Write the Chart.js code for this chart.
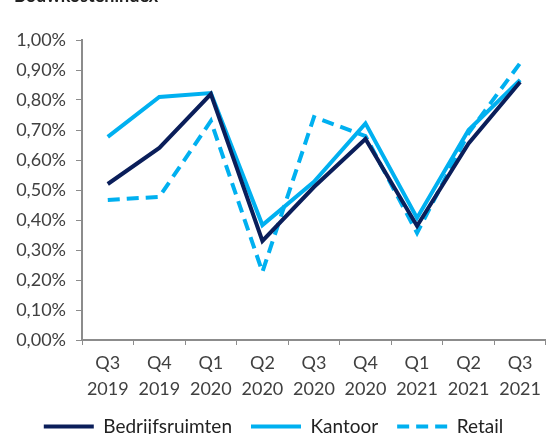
<!DOCTYPE html>
<html lang="nl">
<head>
    <meta charset="UTF-8">
    <title>Bouwkostenindex</title>
    <script src="https://cdn.jsdelivr.net/npm/chart.js"></script>
    <style>
        body { margin: 0; background: #fff; overflow: hidden; }
        #wrap { position: relative; width: 547px; height: 434px; }
        #title { position: absolute; left: 14px; top: -16px; font: bold 18px Lato, sans-serif; color: #222; }
    </style>
</head>
<body>
<div id="wrap">
    <div id="title">Bouwkostenindex</div>
    <canvas id="kostenChart" width="547" height="434"></canvas>
</div>
<script>
    const quarters = [['Q3', '2019'], ['Q4', '2019'], ['Q1', '2020'], ['Q2', '2020'], ['Q3', '2020'],
                      ['Q4', '2020'], ['Q1', '2021'], ['Q2', '2021'], ['Q3', '2021']];
    const bedrijfsruimten = [0.52, 0.64, 0.82, 0.33, 0.51, 0.67, 0.38, 0.655, 0.86];
    const kantoor = [0.677, 0.81, 0.823, 0.383, 0.527, 0.722, 0.407, 0.70, 0.867];
    const retail = [0.467, 0.477, 0.73, 0.227, 0.743, 0.68, 0.357, 0.69, 0.923];

    const navy = '#0a1e5a';
    const lightBlue = '#00b0f0';
    const axisGrey = '#8c8c8c';
    const textColor = '#404040';

    function pct(v) {
        return v.toFixed(2).replace('.', ',') + '%';
    }

    const ctx = document.getElementById('kostenChart').getContext('2d');
    new Chart(ctx, {
        type: 'line',
        data: {
            labels: quarters,
            datasets: [
                { label: 'Bedrijfsruimten', data: bedrijfsruimten, borderColor: navy, backgroundColor: navy },
                { label: 'Kantoor', data: kantoor, borderColor: lightBlue, backgroundColor: lightBlue },
                { label: 'Retail', data: retail, borderColor: lightBlue, backgroundColor: lightBlue, borderDash: [12, 7] }
            ]
        },
        options: {
            responsive: false,
            animation: false,
            elements: {
                line: { borderWidth: 4, tension: 0 },
                point: { radius: 0, hoverRadius: 0 }
            },
            // legend is pushed down a bit so it sits close to the bottom edge
            layout: { padding: { top: 40, right: 0, left: 0, bottom: -12 } },
            plugins: {
                tooltip: { enabled: false },
                legend: {
                    position: 'bottom',
                    labels: {
                        usePointStyle: true,
                        pointStyle: 'line',
                        pointStyleWidth: 50,
                        padding: 19,
                        color: '#222',
                        font: { family: 'Lato', size: 19 },
                        generateLabels(chart) {
                            return chart.data.datasets.map((ds, i) => ({
                                text: ds.label,
                                strokeStyle: ds.borderColor,
                                fillStyle: ds.borderColor,
                                lineWidth: 4,
                                lineDash: ds.borderDash || [],
                                pointStyle: 'line',
                                datasetIndex: i,
                                fontColor: '#222'
                            }));
                        }
                    }
                }
            },
            scales: {
                x: {
                    offset: true,
                    afterFit(scale) { scale.height = 58; },
                    grid: { display: true, drawOnChartArea: false, offset: true, color: axisGrey, tickLength: 5 },
                    border: { color: axisGrey, width: 2 },
                    ticks: { color: textColor, font: { family: 'Lato', size: 18, lineHeight: 1.4 }, maxRotation: 0, padding: 6 }
                },
                y: {
                    min: 0,
                    max: 1,
                    afterFit(scale) { scale.width = 82; },
                    grid: { display: true, drawOnChartArea: false, color: axisGrey, tickLength: 6 },
                    border: { color: axisGrey, width: 2 },
                    ticks: {
                        stepSize: 0.1,
                        color: textColor,
                        font: { family: 'Lato', size: 18 },
                        padding: 10,
                        callback: v => pct(v)
                    }
                }
            }
        }
    });
</script>
</body>
</html>
